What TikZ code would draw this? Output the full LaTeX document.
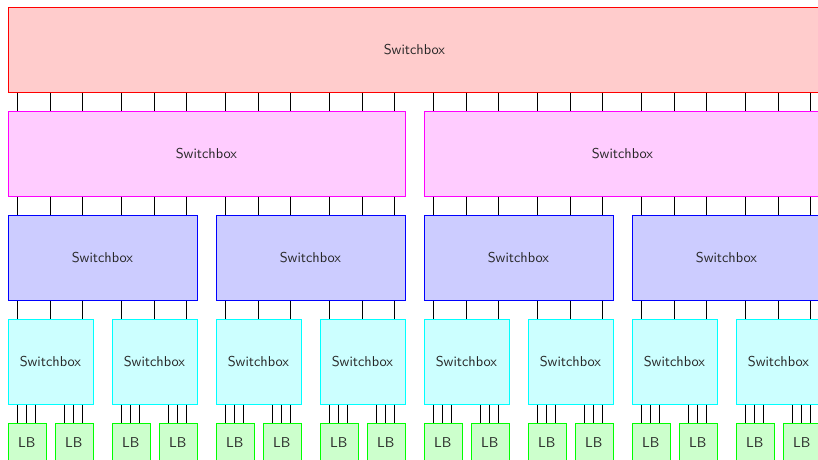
\documentclass[tikz,border=0pt]{standalone}
\definecolor{sbR}{rgb}{1,0,0}
\definecolor{sbM}{rgb}{1,0,1}
\definecolor{sbB}{rgb}{0,0,1}
\definecolor{sbC}{rgb}{0,1,1}
\definecolor{sbG}{rgb}{0,1,0}
\begin{document}
\begin{tikzpicture}[x=0.7pt,y=-0.7pt,
  box/.style={draw,line width=0.5pt,rectangle,anchor=north west,inner sep=0pt,
    font=\sffamily,text=black!85},
  sbred/.style={box,draw=sbR,fill=sbR!20,minimum width=569.1pt,minimum height=59.5pt},
  sbmag/.style={box,draw=sbM,fill=sbM!20,minimum width=277.9pt,minimum height=59.5pt},
  sbblue/.style={box,draw=sbB,fill=sbB!20,minimum width=132.3pt,minimum height=59.5pt},
  sbcyan/.style={box,draw=sbC,fill=sbC!20,minimum width=59.5pt,minimum height=59.5pt},
  lbbox/.style={box,draw=sbG,fill=sbG!20,minimum width=26.6pt,minimum height=26.6pt},
  wire/.style={draw=black,line width=0.45pt}]
\useasboundingbox (0,0) rectangle (818,459);

% column origins (one per cyan switchbox)
\foreach \c in {0,...,7}{
  \pgfmathsetmacro{\cx}{7.5+104*\c}
  \coordinate (col\c) at (\cx,0);
}

% switchbox hierarchy
\node[sbred] (R) at (7.5,7) {Switchbox};
\foreach \m in {0,1}{
  \pgfmathsetmacro{\mx}{7.5+416*\m}
  \node[sbmag] (M\m) at (\mx,111) {Switchbox};
}
\foreach \b in {0,...,3}{
  \pgfmathsetmacro{\bx}{7.5+208*\b}
  \node[sbblue] (B\b) at (\bx,215) {Switchbox};
}
\foreach \c in {0,...,7}{
  \pgfmathsetmacro{\cx}{7.5+104*\c}
  \node[sbcyan] (C\c) at (\cx,319) {Switchbox};
  \pgfmathsetmacro{\la}{\cx}
  \pgfmathsetmacro{\lb}{\cx+47}
  \pgfmathtruncatemacro{\na}{2*\c}
  \pgfmathtruncatemacro{\nb}{2*\c+1}
  \node[lbbox] (L\na) at (\la,423) {LB};
  \node[lbbox] (L\nb) at (\lb,423) {LB};
}

% three wires per column between consecutive levels
\foreach \c in {0,...,7}{
  \pgfmathtruncatemacro{\m}{int(\c/4)}
  \pgfmathtruncatemacro{\b}{int(\c/2)}
  \foreach \o in {10,42.5,75}{
    \path (col\c) ++(\o,0) coordinate (p);
    \draw[wire] (p |- R.south) -- (p |- M\m.north);
    \draw[wire] (p |- M\m.south) -- (p |- B\b.north);
    \draw[wire] (p |- B\b.south) -- (p |- C\c.north);
  }
}

% three wires from each cyan switchbox down to each logic block
\foreach \l in {0,...,15}{
  \pgfmathtruncatemacro{\c}{int(\l/2)}
  \foreach \o in {10,19,28}{
    \path (L\l.north west) ++(\o,0) coordinate (q);
    \draw[wire] (q |- C\c.south) -- (q |- L\l.north);
  }
}
\end{tikzpicture}
\end{document}
